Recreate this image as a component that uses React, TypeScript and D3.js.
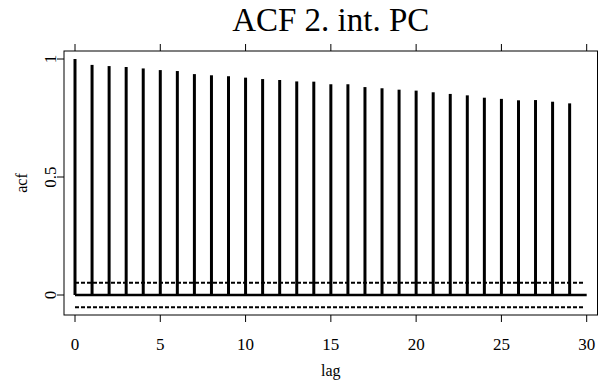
import React from "react";
import * as d3 from "d3";

const lags = d3.range(0, 30);
const acfValues = [
  1.0, 0.975, 0.97, 0.966, 0.96, 0.953, 0.949, 0.936, 0.931, 0.927,
  0.921, 0.915, 0.911, 0.905, 0.904, 0.893, 0.893, 0.881, 0.876, 0.87,
  0.866, 0.859, 0.852, 0.846, 0.836, 0.831, 0.825, 0.826, 0.819, 0.812,
];
const confBound = 0.052;
const xTicks = [0, 5, 10, 15, 20, 25, 30];
const yTicks = [0, 0.5, 1];
const yTickLabels = ["0", "0.5", "1"];
const title = "ACF 2. int. PC";
const xLabel = "lag";
const yLabel = "acf";

export default function App() {
  const W = 598, H = 385;
  const left = 64, right = 597.5, top = 51, bottom = 315;
  const x = d3.scaleLinear().domain([0, 30]).range([75, 586.7]);
  const y = d3.scaleLinear().domain([0, 1]).range([295, 59]);
  const font = "Liberation Serif, DejaVu Serif, serif";
  return (
    <svg width={W} height={H} style={{ position: "absolute", left: 0, top: 0, fontFamily: font }}>
      <rect x={0} y={0} width={W} height={H} fill="#fff" />
      <text x={(left + right) / 2} y={31} textAnchor="middle" fontSize={33} style={{ fontFamily: font }}>{title}</text>
      {/* plot box */}
      <rect x={left} y={top} width={right - left} height={bottom - top} fill="none" stroke="#000" strokeWidth={1} />
      {/* x ticks bottom and top */}
      {xTicks.map((t) => (
        <g key={"xt" + t}>
          <line x1={x(t)} x2={x(t)} y1={bottom} y2={bottom + 7} stroke="#000" strokeWidth={1} />
          <line x1={x(t)} x2={x(t)} y1={top} y2={top - 7} stroke="#000" strokeWidth={1} />
          <text x={x(t)} y={350} textAnchor="middle" fontSize={17} style={{ fontFamily: font }}>{t}</text>
        </g>
      ))}
      {yTicks.map((t, i) => (
        <g key={"yt" + t}>
          <line x1={left} x2={left - 7} y1={y(t)} y2={y(t)} stroke="#000" strokeWidth={1} />
          <text transform={`translate(56,${y(t)}) rotate(-90)`} textAnchor="middle" fontSize={17} style={{ fontFamily: font }}>{yTickLabels[i]}</text>
        </g>
      ))}
      <text x={(left + right) / 2} y={376} textAnchor="middle" fontSize={16} style={{ fontFamily: font }}>{xLabel}</text>
      <text transform={`translate(27,${(top + bottom) / 2}) rotate(-90)`} textAnchor="middle" fontSize={16} style={{ fontFamily: font }}>{yLabel}</text>
      {/* confidence bounds */}
      {[confBound, -confBound].map((c) => (
        <line key={"c" + c} x1={x(0)} x2={x(29.8)} y1={y(c)} y2={y(c)} stroke="#000" strokeWidth={2} strokeDasharray="4,2" />
      ))}
      {/* zero line */}
      <line x1={x(0)} x2={x(30)} y1={y(0)} y2={y(0)} stroke="#000" strokeWidth={2.5} />
      {/* bars */}
      {lags.map((l, i) => (
        <line key={"b" + l} x1={x(l)} x2={x(l)} y1={y(0)} y2={y(acfValues[i])} stroke="#000" strokeWidth={3} />
      ))}
    </svg>
  );
}
